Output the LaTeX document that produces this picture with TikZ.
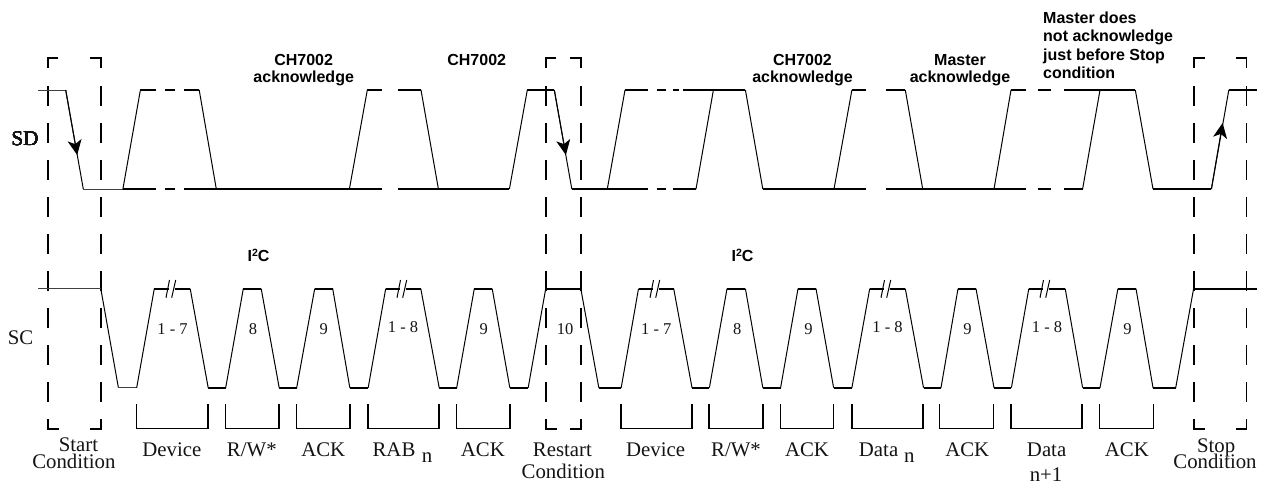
\documentclass[tikz,border=0pt]{standalone}
\usepackage{fontspec}
\setmainfont{Liberation Serif}
\newfontfamily\boldsans{Liberation Sans Bold}
\usetikzlibrary{arrows.meta}
\tikzset{
  wave/.style={line width=1pt,black},
  hlevel/.style={line width=1.7pt,black,line cap=butt},
  thinlevel/.style={line width=1pt,black!75},
  boxdash/.style={line width=1.7pt,black,dash pattern=on 19.5pt off 17.5pt},
  boxcorner/.style={line width=1.7pt,black,line cap=butt,line join=miter},
  bracketline/.style={line width=1.5pt,black,line join=miter},
  arrowline/.style={line width=1pt,black,-{Stealth[length=15pt,width=14pt,inset=4pt]}},
  breakmark/.style={line width=1pt,black},
  big/.style={font=\fontsize{20.8}{20.8}\selectfont,anchor=base,inner sep=0,text=black!92},
  num/.style={font=\fontsize{16.5}{16.5}\selectfont,anchor=base,inner sep=0,text=black!92},
  note/.style={font=\boldsans\fontsize{16}{16}\selectfont,anchor=base,inner sep=0,text=black},
  noteleft/.style={note,anchor=base west},
}
\newcommand{\condbox}[2]{%
  \draw[boxcorner] (#1+10.5,57.7) -- (#1,57.7) -- (#1,68);
  \draw[boxcorner] (#2-10.5,57.7) -- (#2,57.7) -- (#2,68);
  \draw[boxdash] (#1,86) -- (#1,419);
  \draw[boxdash] (#2,86) -- (#2,419);
  \draw[boxcorner] (#1,419) -- (#1,428.7) -- (#1+11,428.7);
  \draw[boxcorner] (#2,419) -- (#2,428.7) -- (#2-11,428.7);
}
\newcommand{\bracketshape}[2]{\draw[bracketline] (#1,404) -- (#1,428.7) -- (#2,428.7) -- (#2,404);}
\begin{document}
\begin{tikzpicture}[x=1pt,y=-1pt]
\useasboundingbox (0,0) rectangle (1265,485);
\fill[white] (0,0) rectangle (1265,485);
% dashed condition boxes
\condbox{47.8}{100.8}
\condbox{545.7}{580.8}
\condbox{1194}{1246.6}
% SD level segments
\draw[thinlevel] (38,90) -- (65.7,90);
\draw[thinlevel] (83.3,189) -- (122.9,189);
\foreach \a/\b in {140.4/155.5,165/175,184/199.2,367.3/382,398/421,527.3/554.3,625/648.3,656.7/665.7,673.3/679.3,683.3/745.4,852/866,886.3/905.3,1011/1026,1037.7/1051,1064.4/1135.3,1228.8/1256.7}
  \draw[hlevel] (\a,90) -- (\b,90);
\foreach \a/\b in {122.9/155.5,165/175,184/382,398/509.4,571.8/648.3,656.7/665.7,673.3/696,762.8/866,886.3/1026,1037.7/1051,1064.4/1082.6,1153/1211.4}
  \draw[hlevel] (\a,189) -- (\b,189);
% SD edges
\foreach \a/\b/\c/\d in {122.9/189/140.4/90,199.2/90/216.3/189,349.4/189/367.3/90,421/90/438.4/189,509.4/189/527.3/90,607.3/189/625/90,696/189/713.4/90,745.4/90/762.8/189,834/189/851.9/90,905.3/90/922.7/189,994/189/1011/90,1082.6/189/1100/90,1135.3/90/1153/189}
  \draw[wave] (\a,\b) -- (\c,\d);
% SD arrows with their edges
\draw[wave] (65.7,90) -- (83.3,189);
\draw[arrowline] (65.7,90) -- (77.2,155);
\draw[wave] (554.3,90) -- (571.8,189);
\draw[arrowline] (554.3,90) -- (565.9,155);
\draw[wave] (1211.4,189) -- (1228.8,90);
\draw[arrowline] (1211.4,189) -- (1222.6,123);
% SC waveform
\draw[thinlevel] (38,288.7) -- (100.8,288.7);
\draw[wave] (100.8,288.7) -- (118.4,387.7);
\draw[thinlevel] (118.4,387.7) -- (136.7,387.7);
\foreach \a/\b/\c/\d in {
  136.7/154.3/190.2/208.2, 225.7/243.3/261.2/279.2, 296.7/314.7/332.7/349.8,
  368.2/385.7/420.8/439.2, 456.7/474.3/492.2/509.8, 528.2/545.7/580.8/598.8,
  621.2/638.5/673.7/692, 709.4/727/745.4/762.8, 780.6/798/816/833.6,
  851.9/869.7/905.3/923.5, 941/958/976/994, 1011.4/1028.8/1065.2/1082.6,
  1100/1117.9/1136/1153}{
  \draw[wave] (\a,387.7) -- (\b,288.7);
  \draw[wave] (\c,288.7) -- (\d,387.7);
}
\foreach \a/\b in {208.2/225.7,279.2/296.7,349.8/368.2,439.2/456.7,509.8/528.2,598.8/621.2,692/709.4,762.8/780.6,833.6/851.9,923.5/941,994/1011.4,1082.6/1100,1153/1175.7}
  \draw[hlevel] (\a,387.7) -- (\b,387.7);
\foreach \a/\b in {243.3/261.2,314.7/332.7,474.3/492.2,545.7/580.8,727/745.4,798/816,958/976,1117.9/1136}
  \draw[hlevel] (\a,288.7) -- (\b,288.7);
\draw[wave] (1175.7,387.7) -- (1193.6,288.7);
\draw[hlevel] (1193.6,288.7) -- (1256.7,288.7);
% SC high levels with break marks
\foreach \a/\m/\b in {154.3/171/190.2,385.7/402/420.8,638.5/655/673.7,869.7/886/905.3,1028.8/1045/1065.2}{
  \draw[hlevel] (\a,288.7) -- (\m-2.5,288.7);
  \draw[hlevel] (\m+3.5,288.7) -- (\b,288.7);
  \draw[breakmark] (\m-5,297.7) -- (\m-1.5,280);
  \draw[breakmark] (\m+0.7,297.7) -- (\m+4.7,280);
}
% brackets
\foreach \a/\b in {136.7/208.2,225.7/279.2,296.7/349.8,367.8/439.2,456.7/509.8,621.2/692,709/763.2,780.6/833.6,851.9/923,939.7/993.6,1011/1082.2,1099.6/1153.5}
  \bracketshape{\a}{\b}
% signal names
\node[big] (sd) at (25,145) {SD};
\node[big] (sc) at (20.5,344) {SC};
% bold notes
\node[note] (n1a) at (303.7,65.7) {CH7002};
\node[note] (n1b) at (303.7,82) {acknowledge};
\node[note] (n2a) at (476.7,65.7) {CH7002};
\node[note] (n3a) at (802.5,65.7) {CH7002};
\node[note] (n3b) at (802.5,82) {acknowledge};
\node[note] (n4a) at (960,65.7) {Master};
\node[note] (n4b) at (960,82) {acknowledge};
\node[noteleft] (n5a) at (1043,23.3) {Master does};
\node[noteleft] (n5b) at (1043,41.7) {not acknowledge};
\node[noteleft] (n5c) at (1043,60) {just before Stop};
\node[noteleft] (n5d) at (1043,78.3) {condition};
\node[note] (i1) at (258.5,261.7) {I\raisebox{5.5pt}{\fontsize{10.5}{10.5}\selectfont 2}C};
\node[note] (i2) at (742.5,261.7) {I\raisebox{5.5pt}{\fontsize{10.5}{10.5}\selectfont 2}C};
% clock counts
\node[num] (c1) at (172.6,334) {1 - 7};
\node[num] (c2) at (253,334) {8};
\node[num] (c3) at (323.7,334) {9};
\node[num] (c4) at (403,332) {1 - 8};
\node[num] (c5) at (483.7,334) {9};
\node[num] (c6) at (565,334) {10};
\node[num] (c7) at (656.3,334) {1 - 7};
\node[num] (c8) at (737.3,334) {8};
\node[num] (c9) at (808.5,334) {9};
\node[num] (c10) at (887.5,332) {1 - 8};
\node[num] (c11) at (967.6,334) {9};
\node[num] (c12) at (1047,332) {1 - 8};
\node[num] (c13) at (1127.6,334) {9};
% bottom labels
\node[big] (l1) at (78.4,451.7) {Start};
\node[big] (l2) at (73.9,468.3) {Condition};
\node[big] (l3) at (171.8,456) {Device};
\node[big] (l4) at (251.8,456) {R/W*};
\node[big] (l5) at (323.3,456) {ACK};
\node[big] (l6) at (394,456) {RAB};
\node[big] (l7) at (427,462.7) {n};
\node[big] (l8) at (482.9,456) {ACK};
\node[big] (l9) at (562.4,456) {Restart};
\node[big] (l10) at (563.3,478.3) {Condition};
\node[big] (l11) at (655.6,456) {Device};
\node[big] (l12) at (736,456) {R/W*};
\node[big] (l13) at (807,456) {ACK};
\node[big] (l14) at (878.6,456) {Data};
\node[big] (l15) at (909.4,462.7) {n};
\node[big] (l16) at (967.2,456) {ACK};
\node[big] (l17) at (1046.6,456) {Data};
\node[big] (l18) at (1046,481.7) {n+1};
\node[big] (l19) at (1126.8,456) {ACK};
\node[big] (l20) at (1216.2,452.5) {Stop};
\node[big] (l21) at (1215,468.3) {Condition};
\end{tikzpicture}
\end{document}
